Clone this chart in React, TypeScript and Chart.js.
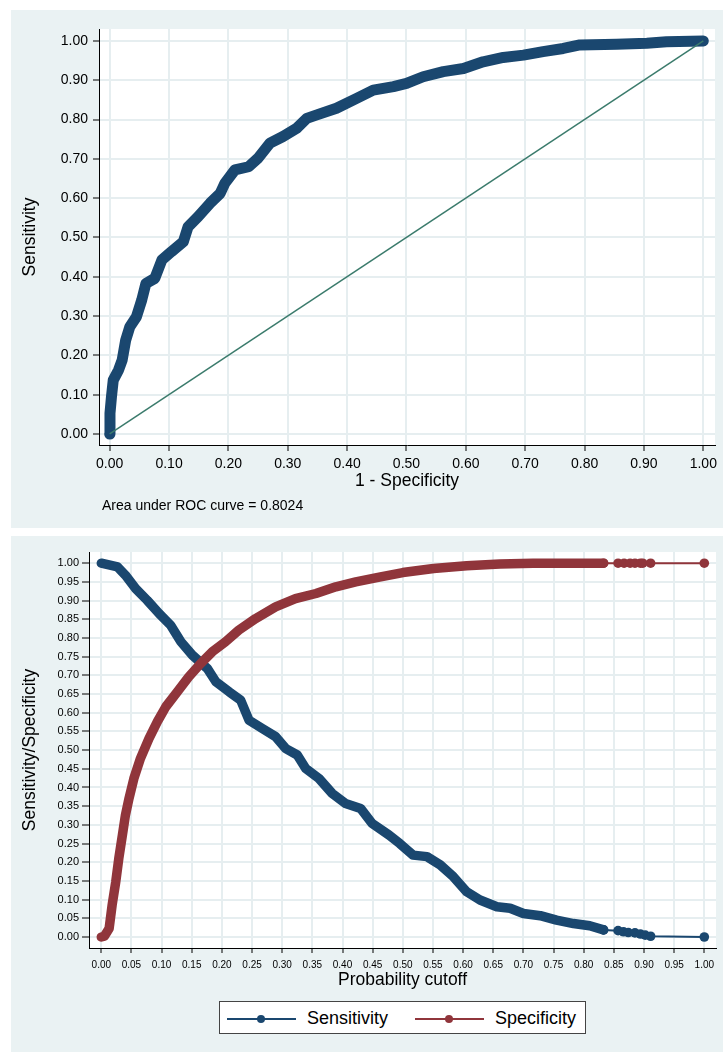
import React, { useEffect, useRef } from 'react';
import { Chart, registerables } from 'chart.js';

Chart.register(...registerables);

const FONT = "'Liberation Sans', Arial, Helvetica, sans-serif";
const BG = '#eaf2f3';
const GRID = '#e6eef0';
const NAVY = '#1a476f';
const MAROON = '#90353b';
const REFGREEN = '#3b7b6c';

// ---------- Top chart: ROC curve ----------
const rocTicks = [0, 0.1, 0.2, 0.3, 0.4, 0.5, 0.6, 0.7, 0.8, 0.9, 1.0];
const rocFpr = [0, 0.0005, 0.003, 0.006, 0.015, 0.021, 0.027, 0.034, 0.045, 0.054, 0.061, 0.076, 0.088, 0.104, 0.124, 0.132, 0.149, 0.169, 0.186, 0.194, 0.211, 0.234, 0.250, 0.270, 0.292, 0.315, 0.332, 0.349, 0.382, 0.416, 0.444, 0.478, 0.500, 0.528, 0.562, 0.596, 0.629, 0.663, 0.697, 0.730, 0.764, 0.792, 0.854, 0.905, 0.938, 1.0];
const rocSens = [0, 0.053, 0.095, 0.137, 0.163, 0.188, 0.239, 0.273, 0.298, 0.341, 0.383, 0.396, 0.443, 0.464, 0.489, 0.527, 0.553, 0.587, 0.612, 0.638, 0.672, 0.680, 0.702, 0.740, 0.757, 0.778, 0.803, 0.812, 0.829, 0.854, 0.875, 0.884, 0.892, 0.909, 0.922, 0.930, 0.947, 0.958, 0.964, 0.973, 0.981, 0.990, 0.992, 0.994, 0.998, 1.0];
const refX = [0, 1];
const refY = [0, 1];
const aucNote = 'Area under ROC curve = 0.8024';

// ---------- Bottom chart: sensitivity / specificity vs cutoff ----------
const cutoffTicks = [0, 0.05, 0.1, 0.15, 0.2, 0.25, 0.3, 0.35, 0.4, 0.45, 0.5, 0.55, 0.6, 0.65, 0.7, 0.75, 0.8, 0.85, 0.9, 0.95, 1.0];
const sensCutoff = [0, 0.027, 0.040, 0.057, 0.076, 0.096, 0.115, 0.132, 0.151, 0.176, 0.190, 0.212, 0.231, 0.245, 0.267, 0.289, 0.306, 0.325, 0.339, 0.361, 0.383, 0.405, 0.430, 0.449, 0.477, 0.495, 0.517, 0.540, 0.562, 0.584, 0.606, 0.628, 0.656, 0.678, 0.700, 0.728, 0.755, 0.783, 0.810, 0.833];
const sensValue = [1.0, 0.990, 0.968, 0.932, 0.901, 0.865, 0.834, 0.790, 0.754, 0.718, 0.683, 0.656, 0.634, 0.580, 0.558, 0.536, 0.504, 0.487, 0.451, 0.424, 0.384, 0.357, 0.344, 0.304, 0.273, 0.250, 0.219, 0.215, 0.193, 0.161, 0.121, 0.099, 0.081, 0.077, 0.063, 0.057, 0.045, 0.036, 0.030, 0.019];
const sensTailCutoff = [0.833, 0.857, 0.866, 0.874, 0.885, 0.894, 0.902, 0.911, 1.0];
const sensTailValue = [0.019, 0.017, 0.014, 0.012, 0.011, 0.008, 0.005, 0.002, 0.0];
const specCutoff = [0, 0.005, 0.013, 0.018, 0.024, 0.029, 0.035, 0.040, 0.046, 0.054, 0.065, 0.079, 0.093, 0.107, 0.126, 0.145, 0.165, 0.184, 0.206, 0.228, 0.256, 0.289, 0.322, 0.356, 0.389, 0.422, 0.461, 0.500, 0.551, 0.606, 0.661, 0.716, 0.780, 0.833];
const specValue = [0, 0.002, 0.023, 0.086, 0.148, 0.210, 0.273, 0.326, 0.371, 0.424, 0.478, 0.531, 0.576, 0.616, 0.656, 0.696, 0.732, 0.763, 0.790, 0.821, 0.852, 0.883, 0.905, 0.919, 0.937, 0.950, 0.963, 0.975, 0.986, 0.993, 0.998, 1.0, 1.0, 1.0];
const specTailCutoff = [0.833, 0.857, 0.867, 0.877, 0.885, 0.894, 0.898, 0.911, 1.0];
const specTailValue = [1.0, 1.0, 1.0, 1.0, 1.0, 1.0, 1.0, 1.0, 1.0];
const legendLabels = ['Sensitivity', 'Specificity'];

const pts = (xs: number[], ys: number[]) => xs.map((x, i) => ({ x, y: ys[i] }));

const bgPlugin = {
  id: 'bgfill',
  beforeDraw(chart: any) {
    const { ctx, chartArea, width, height } = chart;
    ctx.save();
    ctx.fillStyle = BG;
    ctx.fillRect(0, 0, width, height);
    ctx.fillStyle = '#ffffff';
    ctx.fillRect(chartArea.left, chartArea.top, chartArea.right - chartArea.left, chartArea.bottom - chartArea.top);
    ctx.restore();
  },
};

function axis(opts: {
  ticks: number[];
  min: number;
  max: number;
  fit: number;
  isX: boolean;
  tickSize: number;
  tickLen: number;
  tickPad: number;
  title: string;
  titlePad: any;
}) {
  return {
    type: 'linear',
    min: opts.min,
    max: opts.max,
    afterBuildTicks: (s: any) => {
      s.ticks = opts.ticks.map((v) => ({ value: v }));
    },
    afterFit: (s: any) => {
      if (opts.isX) s.height = opts.fit;
      else s.width = opts.fit;
    },
    grid: {
      color: GRID,
      lineWidth: 2,
      drawTicks: true,
      tickColor: '#000',
      tickLength: opts.tickLen,
      tickWidth: 1,
    },
    border: { display: true, color: '#000', width: 1 },
    ticks: {
      font: { family: FONT, size: opts.tickSize },
      color: '#000',
      padding: opts.tickPad,
      maxRotation: 0,
      minRotation: 0,
      autoSkip: false,
      callback: (v: any) => Number(v).toFixed(2),
    },
    title: {
      display: true,
      text: opts.title,
      color: '#000',
      font: { family: FONT, size: 17.5 },
      padding: opts.titlePad,
    },
  };
}

function ChartCanvas({ make, left, top, width, height }: any) {
  const ref = useRef<HTMLCanvasElement>(null);
  useEffect(() => {
    const chart = new Chart(ref.current as HTMLCanvasElement, make());
    return () => chart.destroy();
  }, []);
  return (
    <canvas
      ref={ref}
      width={width}
      height={height}
      style={{ position: 'absolute', left, top, width, height, display: 'block' }}
    />
  );
}

const makeRoc = () => ({
  type: 'line',
  data: {
    datasets: [
      {
        label: 'Reference',
        data: pts(refX, refY),
        borderColor: REFGREEN,
        borderWidth: 1.5,
        pointRadius: 0,
        tension: 0,
      },
      {
        label: 'ROC',
        data: pts(rocFpr, rocSens),
        borderColor: NAVY,
        borderWidth: 11,
        borderCapStyle: 'round',
        borderJoinStyle: 'round',
        pointRadius: 0,
        tension: 0,
      },
    ],
  },
  options: {
    animation: false,
    responsive: false,
    events: [],
    layout: { padding: { top: 19, right: 8, left: 0, bottom: 0 } },
    plugins: { legend: { display: false }, tooltip: { enabled: false } },
    scales: {
      x: axis({ ticks: rocTicks, min: -0.018, max: 1.0197, fit: 83, isX: true, tickSize: 14, tickLen: 6, tickPad: 5, title: '1 - Specificity', titlePad: { top: 0, bottom: 36.5 } }),
      y: axis({ ticks: rocTicks, min: -0.028, max: 1.0305, fit: 88, isX: false, tickSize: 14, tickLen: 6, tickPad: 5, title: 'Sensitivity', titlePad: { top: 8.5, bottom: 0 } }),
    },
  },
  plugins: [bgPlugin],
});

const makeCutoff = () => ({
  type: 'line',
  data: {
    datasets: [
      {
        label: legendLabels[1],
        data: pts(specCutoff, specValue),
        borderColor: MAROON,
        borderWidth: 9.5,
        borderCapStyle: 'round',
        borderJoinStyle: 'round',
        pointRadius: 0,
        tension: 0,
        order: 1,
      },
      {
        label: legendLabels[1] + ' tail',
        data: pts(specTailCutoff, specTailValue),
        borderColor: MAROON,
        backgroundColor: MAROON,
        borderWidth: 2,
        pointRadius: 4.8,
        pointBorderWidth: 0,
        pointBackgroundColor: MAROON,
        tension: 0,
        order: 2,
      },
      {
        label: legendLabels[0],
        data: pts(sensCutoff, sensValue),
        borderColor: NAVY,
        borderWidth: 9.5,
        borderCapStyle: 'round',
        borderJoinStyle: 'round',
        pointRadius: 0,
        tension: 0,
        order: 3,
      },
      {
        label: legendLabels[0] + ' tail',
        data: pts(sensTailCutoff, sensTailValue),
        borderColor: NAVY,
        backgroundColor: NAVY,
        borderWidth: 2,
        pointRadius: 4.8,
        pointBorderWidth: 0,
        pointBackgroundColor: NAVY,
        tension: 0,
        order: 4,
      },
    ],
  },
  options: {
    animation: false,
    responsive: false,
    events: [],
    layout: { padding: { top: 16, right: 7, left: 0, bottom: 0 } },
    plugins: { legend: { display: false }, tooltip: { enabled: false } },
    scales: {
      x: axis({ ticks: cutoffTicks, min: -0.0204, max: 1.0194, fit: 104, isX: true, tickSize: 10, tickLen: 5, tickPad: 6, title: 'Probability cutoff', titlePad: { top: 0, bottom: 61.5 } }),
      y: axis({ ticks: cutoffTicks, min: -0.0294, max: 1.03, fit: 78, isX: false, tickSize: 11, tickLen: 7, tickPad: 3, title: 'Sensitivity/Specificity', titlePad: { top: 8.5, bottom: 0 } }),
    },
  },
  plugins: [bgPlugin],
});

function LegendKey({ color, left }: { color: string; left: number }) {
  return (
    <>
      <div style={{ position: 'absolute', left, top: 15.5, width: 69, height: 2, background: color }} />
      <div
        style={{
          position: 'absolute',
          left: left + 29.5,
          top: 12.5,
          width: 8,
          height: 8,
          borderRadius: '50%',
          background: color,
        }}
      />
    </>
  );
}

export default function App() {
  return (
    <div style={{ position: 'absolute', left: 0, top: 0, width: 723, height: 1052, overflow: 'hidden', background: '#fff', fontFamily: FONT }}>
      <ChartCanvas make={makeRoc} left={11} top={10} width={712} height={518} />
      <div style={{ position: 'absolute', left: 102, top: 497, fontSize: 14, lineHeight: '16px', color: '#000', whiteSpace: 'nowrap' }}>
        {aucNote}
      </div>
      <ChartCanvas make={makeCutoff} left={11} top={536} width={712} height={516} />
      <div
        style={{
          position: 'absolute',
          left: 219,
          top: 1001,
          width: 367,
          height: 33,
          boxSizing: 'border-box',
          border: '1px solid #444',
          background: '#fff',
        }}
      >
        <LegendKey color={NAVY} left={7} />
        <div style={{ position: 'absolute', left: 87, top: 5, fontSize: 18, lineHeight: '22px', color: '#000', whiteSpace: 'nowrap' }}>
          {legendLabels[0]}
        </div>
        <LegendKey color={MAROON} left={195} />
        <div style={{ position: 'absolute', left: 275, top: 5, fontSize: 18, lineHeight: '22px', color: '#000', whiteSpace: 'nowrap' }}>
          {legendLabels[1]}
        </div>
      </div>
    </div>
  );
}
